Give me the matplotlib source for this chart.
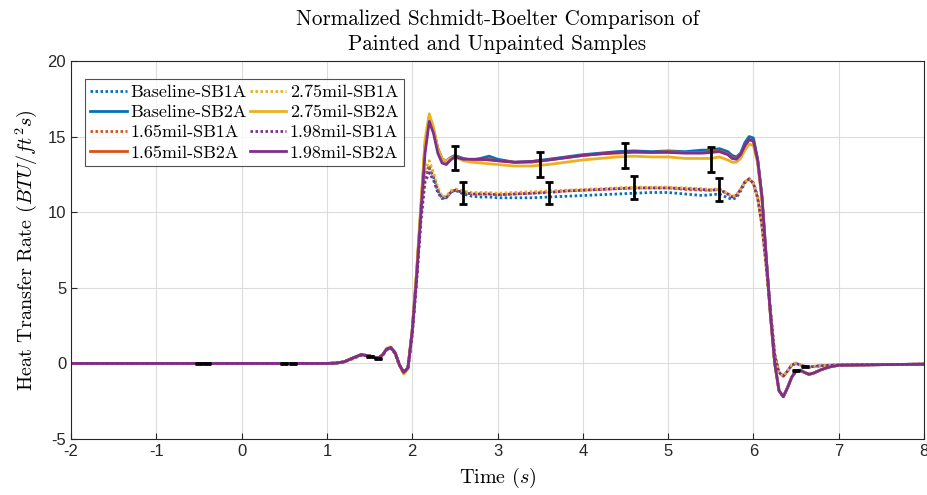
import numpy as np
import matplotlib
matplotlib.use("Agg")
import matplotlib.pyplot as plt

plt.rcParams["mathtext.fontset"] = "cm"
plt.rcParams["axes.unicode_minus"] = False
plt.rcParams["font.family"] = ["Liberation Sans", "DejaVu Sans"]

# time points (s)
t = [-2.0, 0.9, 1.0, 1.1, 1.2, 1.3, 1.4, 1.5, 1.6, 1.65, 1.7, 1.75, 1.8, 1.85, 1.9, 1.95,
     2.0, 2.05, 2.1, 2.15, 2.2, 2.25, 2.3, 2.35, 2.4, 2.45, 2.5, 2.6, 2.7, 2.8, 2.9, 3.0,
     3.2, 3.4, 3.6, 3.8, 4.0, 4.2, 4.4, 4.6, 4.8, 5.0, 5.2, 5.4, 5.5, 5.6, 5.7, 5.75, 5.8,
     5.85, 5.9, 5.95, 6.0, 6.05, 6.1, 6.15, 6.2, 6.25, 6.3, 6.35, 6.4, 6.45, 6.5, 6.55,
     6.6, 6.65, 6.7, 6.8, 6.9, 7.0, 7.5, 8.0]

# heat transfer rate (BTU/ft^2 s)
baseline_sb1a = [0, 0, 0, 0.02, 0.1, 0.32, 0.55, 0.48, 0.35, 0.5, 0.9, 1.0, 0.65, -0.1, -0.6, -0.3,
                 2.0, 5.5, 9.5, 12.3, 12.9, 12.3, 11.4, 10.95, 10.95, 11.3, 11.45, 11.2, 11.05, 11.0, 11.0, 10.95,
                 10.95, 10.95, 11.0, 11.05, 11.1, 11.15, 11.2, 11.25, 11.3, 11.3, 11.2, 11.1, 11.15, 11.2, 10.95, 10.85, 10.95,
                 11.4, 11.95, 12.15, 11.9, 11.0, 9.2, 6.5, 3.5, 0.6, -0.6, -0.85, -0.5, -0.1, 0.0, -0.1,
                 -0.2, -0.25, -0.2, -0.15, -0.12, -0.1, -0.08, -0.05]
baseline_sb2a = [0, 0, 0, 0.02, 0.1, 0.35, 0.58, 0.5, 0.35, 0.55, 0.95, 1.05, 0.7, -0.1, -0.6, -0.3,
                 2.2, 5.8, 10.0, 14.3, 16.2, 15.4, 14.2, 13.5, 13.4, 13.6, 13.75, 13.55, 13.45, 13.55, 13.7, 13.5,
                 13.3, 13.35, 13.5, 13.65, 13.8, 13.9, 14.0, 14.05, 14.0, 14.05, 14.0, 14.1, 14.1, 14.2, 14.0, 13.75, 13.65,
                 13.9, 14.6, 15.0, 14.9, 13.5, 11.0, 7.0, 3.2, 0.0, -1.8, -2.2, -1.6, -0.9, -0.5, -0.45,
                 -0.6, -0.72, -0.65, -0.4, -0.22, -0.12, -0.08, -0.05]
mil165_sb1a = [0, 0, 0, 0.02, 0.1, 0.33, 0.56, 0.48, 0.35, 0.52, 0.92, 1.02, 0.66, -0.1, -0.6, -0.3,
               2.0, 5.5, 9.6, 12.5, 13.1, 12.4, 11.5, 11.0, 11.0, 11.35, 11.5, 11.35, 11.2, 11.2, 11.2, 11.15,
               11.2, 11.25, 11.35, 11.4, 11.45, 11.5, 11.55, 11.6, 11.6, 11.6, 11.5, 11.45, 11.45, 11.5, 11.2, 11.0, 11.1,
               11.5, 12.0, 12.2, 11.95, 11.0, 9.2, 6.5, 3.5, 0.6, -0.6, -0.85, -0.5, -0.1, 0.0, -0.1,
               -0.2, -0.25, -0.2, -0.15, -0.12, -0.1, -0.08, -0.05]
mil165_sb2a = [0, 0, 0, 0.02, 0.1, 0.35, 0.58, 0.5, 0.35, 0.55, 0.95, 1.05, 0.7, -0.1, -0.6, -0.3,
               2.2, 5.8, 10.0, 14.4, 16.3, 15.4, 14.2, 13.5, 13.35, 13.55, 13.7, 13.5, 13.45, 13.45, 13.5, 13.4,
               13.3, 13.3, 13.45, 13.6, 13.75, 13.85, 13.9, 13.95, 13.95, 14.0, 13.95, 13.95, 14.0, 14.05, 13.85, 13.6, 13.55,
               13.8, 14.4, 14.8, 14.7, 13.4, 11.0, 7.0, 3.2, 0.0, -1.8, -2.2, -1.6, -0.9, -0.5, -0.45,
               -0.6, -0.72, -0.65, -0.4, -0.22, -0.12, -0.08, -0.05]
mil275_sb1a = [0, 0, 0, 0.02, 0.1, 0.3, 0.55, 0.48, 0.35, 0.52, 0.95, 1.05, 0.68, -0.1, -0.65, -0.35,
               2.0, 5.6, 9.8, 12.8, 13.4, 12.6, 11.6, 11.05, 11.05, 11.4, 11.55, 11.4, 11.3, 11.3, 11.3, 11.25,
               11.3, 11.35, 11.4, 11.45, 11.5, 11.55, 11.6, 11.65, 11.65, 11.65, 11.6, 11.55, 11.5, 11.55, 11.25, 11.05, 11.15,
               11.5, 12.0, 12.2, 11.9, 10.9, 9.1, 6.4, 3.4, 0.5, -0.65, -0.85, -0.5, -0.1, 0.05, -0.1,
               -0.2, -0.25, -0.2, -0.15, -0.12, -0.1, -0.08, -0.05]
mil275_sb2a = [0, 0, 0, 0.02, 0.1, 0.32, 0.56, 0.5, 0.35, 0.55, 1.0, 1.1, 0.72, -0.1, -0.7, -0.35,
               2.2, 6.0, 10.4, 14.8, 16.5, 15.6, 14.2, 13.5, 13.4, 13.55, 13.65, 13.4, 13.3, 13.25, 13.2, 13.15,
               13.05, 13.05, 13.15, 13.3, 13.45, 13.55, 13.65, 13.7, 13.65, 13.65, 13.55, 13.55, 13.55, 13.65, 13.45, 13.3, 13.3,
               13.55, 14.1, 14.5, 14.4, 13.2, 10.8, 6.9, 3.1, 0.0, -1.8, -2.2, -1.6, -0.9, -0.5, -0.45,
               -0.6, -0.72, -0.65, -0.4, -0.22, -0.12, -0.08, -0.05]
mil198_sb1a = [0, 0, 0, 0.02, 0.1, 0.32, 0.55, 0.48, 0.35, 0.52, 0.92, 1.02, 0.66, -0.1, -0.6, -0.3,
               1.9, 5.3, 9.3, 12.0, 12.6, 12.1, 11.3, 10.9, 10.95, 11.3, 11.45, 11.3, 11.2, 11.2, 11.2, 11.15,
               11.2, 11.25, 11.3, 11.4, 11.45, 11.5, 11.55, 11.6, 11.6, 11.6, 11.55, 11.5, 11.45, 11.5, 11.2, 11.0, 11.1,
               11.5, 12.0, 12.2, 11.9, 10.9, 9.1, 6.4, 3.4, 0.5, -0.6, -0.85, -0.5, -0.1, 0.0, -0.1,
               -0.2, -0.25, -0.2, -0.15, -0.12, -0.1, -0.08, -0.05]
mil198_sb2a = [0, 0, 0, 0.02, 0.1, 0.35, 0.58, 0.5, 0.35, 0.55, 0.95, 1.05, 0.7, -0.1, -0.6, -0.3,
               2.1, 5.6, 9.8, 13.9, 16.0, 15.2, 13.9, 13.25, 13.15, 13.45, 13.65, 13.5, 13.5, 13.5, 13.45, 13.4,
               13.3, 13.35, 13.45, 13.6, 13.75, 13.85, 13.95, 14.0, 13.95, 13.95, 13.9, 13.9, 13.95, 14.0, 13.8, 13.55, 13.5,
               13.8, 14.4, 14.8, 14.7, 13.4, 11.0, 7.0, 3.2, 0.0, -1.8, -2.2, -1.6, -0.9, -0.5, -0.45,
               -0.6, -0.72, -0.65, -0.4, -0.22, -0.12, -0.08, -0.05]

# error bars
err_t = [-0.5, -0.4, 0.5, 0.6, 1.5, 1.6, 2.5, 2.6, 3.5, 3.6, 4.5, 4.6, 5.5, 5.6, 6.5, 6.6]
err_y = [0.0, 0.0, 0.0, 0.0, 0.45, 0.35, 13.6, 11.25, 13.15, 11.25, 13.75, 11.65, 13.5, 11.5, -0.45, -0.2]
err_e = [0.03, 0.03, 0.03, 0.03, 0.03, 0.03, 0.8, 0.73, 0.83, 0.73, 0.83, 0.75, 0.83, 0.73, 0.03, 0.03]

series = [
    ("Baseline-SB1A", baseline_sb1a, "#0072BD", ":"),
    ("Baseline-SB2A", baseline_sb2a, "#0072BD", "-"),
    ("1.65mil-SB1A", mil165_sb1a, "#D95319", ":"),
    ("1.65mil-SB2A", mil165_sb2a, "#D95319", "-"),
    ("2.75mil-SB1A", mil275_sb1a, "#EDB120", ":"),
    ("2.75mil-SB2A", mil275_sb2a, "#EDB120", "-"),
    ("1.98mil-SB1A", mil198_sb1a, "#7E2F8E", ":"),
    ("1.98mil-SB2A", mil198_sb2a, "#7E2F8E", "-"),
]

fig = plt.figure(figsize=(9.27, 4.95), dpi=100)
ax = fig.add_axes([0.0766, 0.113, 0.9202, 0.764])

for name, vals, col, ls in series:
    if ls == ":":
        ax.plot(t, vals, color=col, lw=2, linestyle=(0, (0.9, 0.9)), label=name)
    else:
        ax.plot(t, vals, color=col, lw=2, linestyle="-", label=name)

ax.errorbar(err_t, err_y, yerr=err_e, fmt="none", ecolor="black", elinewidth=2,
            capsize=3.2, capthick=2, zorder=5)

ax.set_xlim(-2, 8)
ax.set_ylim(-5, 20)
ax.set_xticks(np.arange(-2, 9, 1))
ax.set_yticks(np.arange(-5, 21, 5))
ax.tick_params(labelsize=12, direction="in", length=4, color="#262626", labelcolor="#262626")
ax.grid(True, color="#dcdcdc", lw=0.8)
ax.set_axisbelow(True)
for s in ax.spines.values():
    s.set_color("#262626")
    s.set_linewidth(0.8)

ax.set_title("Normalized Schmidt-Boelter Comparison of\nPainted and Unpainted Samples",
             fontfamily="cmr10", fontsize=15.2, linespacing=1.35, pad=8)
ax.set_xlabel("Time $(s)$", fontfamily="cmr10", fontsize=14.5, labelpad=5)
ax.set_ylabel("Heat Transfer Rate $(BTU/ft^2 s)$", fontfamily="cmr10", fontsize=14.5, labelpad=6)

leg = ax.legend(ncol=2, loc="upper left", bbox_to_anchor=(0.0164, 0.952),
                prop={"family": "cmr10", "size": 13}, frameon=True, fancybox=False,
                handlelength=2.0, handletextpad=0.2, columnspacing=0.2, labelspacing=0.25,
                borderpad=0.3, borderaxespad=0)
leg.get_frame().set_edgecolor("#262626")
leg.get_frame().set_linewidth(0.8)

fig.savefig("out.png", dpi=100)
